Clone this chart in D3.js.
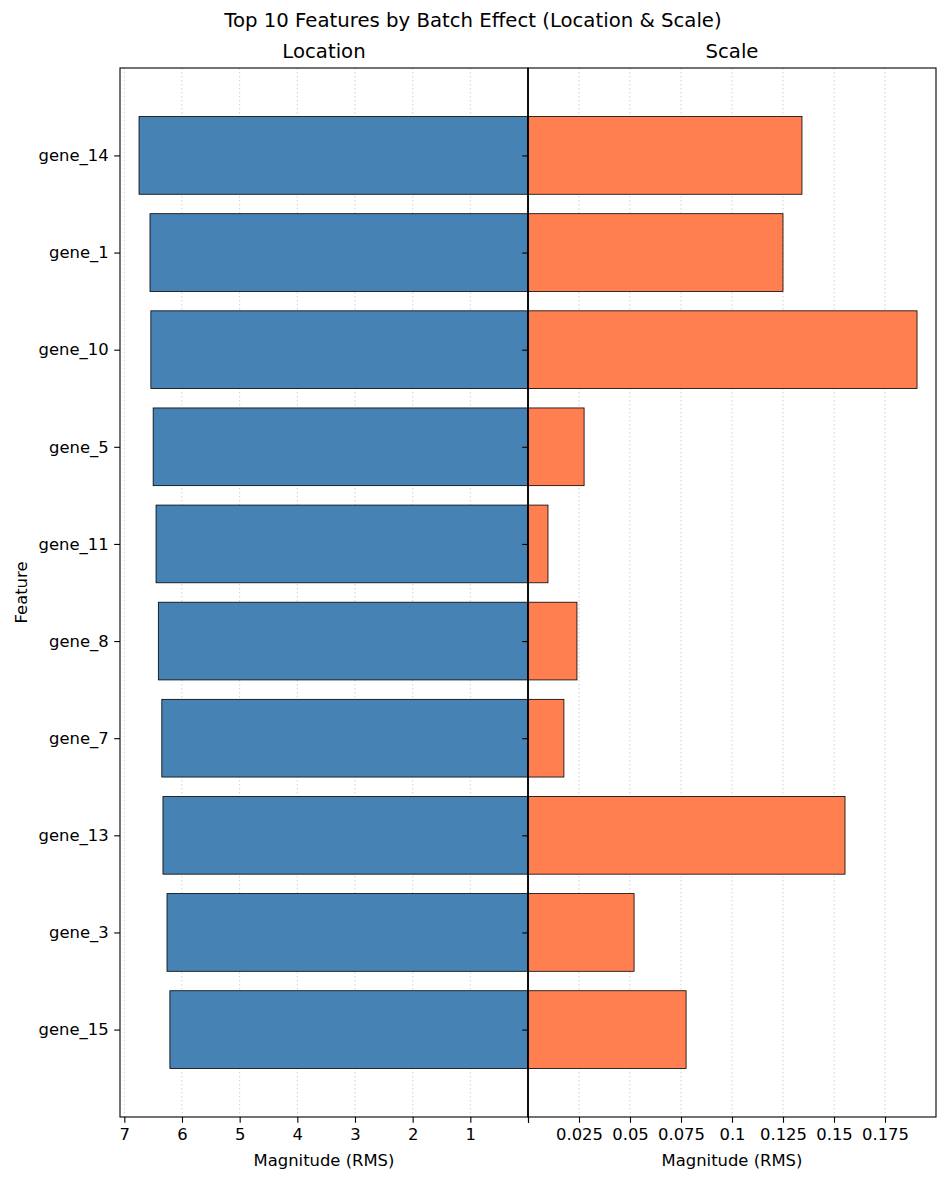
<!DOCTYPE html>
<html>
<head>
<meta charset="utf-8">
<script src="https://cdn.jsdelivr.net/npm/d3@7"></script>
<style>
    body { margin: 0; background: #fff; }
    svg text { font-family: "DejaVu Sans", sans-serif; fill: #000; }
    .tick text { font-size: 16.4px; }
    .grid line { stroke: #ccc; stroke-width: 0.9; stroke-dasharray: 1.5, 2.5; }
</style>
</head>
<body>
<script>
(function(){

// DATA

    const features = ['gene_14', 'gene_1', 'gene_10', 'gene_5', 'gene_11',
        'gene_8', 'gene_7', 'gene_13', 'gene_3', 'gene_15'];

    const locationValues = [6.745, 6.555, 6.54, 6.50, 6.45, 6.41, 6.35, 6.33, 6.26, 6.21];

    const scaleValues = [0.1343, 0.125, 0.1907, 0.0275, 0.0098, 0.024, 0.0176, 0.1554, 0.052, 0.0775];

    const locationTicks = [0, 1, 2, 3, 4, 5, 6, 7];
    const scaleTicks = [0, 0.025, 0.05, 0.075, 0.1, 0.125, 0.15, 0.175];

// LAYOUT

    const width = 947,
        height = 1182,
        left = 120,
        mid = 528,
        right = 936,
        top = 68,
        bottom = 1117,
        tickLen = 5.8,
        tickPad = 5.6;

    const svg = d3
        .select('body')
        .append('svg')
        .attr('width', width)
        .attr('height', height);

    const xLoc = d3.scaleLinear()
        .domain([0, 7.075])
        .range([mid, left]);

    const xScale = d3.scaleLinear()
        .domain([0, 0.2])
        .range([mid, right]);

    // matplotlib style category axis: integer positions with margin
    const y = d3.scaleLinear()
        .domain([-0.9, 9.9])
        .range([top, bottom]);

    const barH = y(0.8) - y(0);

// GRID

    function drawGrid(ticks, scale){
        svg.append('g')
            .attr('class', 'grid')
            .selectAll('line')
            .data(ticks.filter(function(t){ return t !== 0; }))
            .enter()
            .append('line')
            .attr('x1', function(d){ return scale(d); })
            .attr('x2', function(d){ return scale(d); })
            .attr('y1', top)
            .attr('y2', bottom);
    };
    drawGrid(locationTicks, xLoc);
    drawGrid(scaleTicks, xScale);

// BARS

    svg.append('g')
        .selectAll('rect')
        .data(features)
        .enter()
        .append('rect')
        .attr('x', function(d, i){ return xLoc(locationValues[i]); })
        .attr('y', function(d, i){ return y(i) - barH / 2; })
        .attr('width', function(d, i){ return xLoc(0) - xLoc(locationValues[i]); })
        .attr('height', barH)
        .style('fill', '#4682b4')
        .style('stroke', '#000')
        .style('stroke-width', 0.8);

    svg.append('g')
        .selectAll('rect')
        .data(features)
        .enter()
        .append('rect')
        .attr('x', xScale(0))
        .attr('y', function(d, i){ return y(i) - barH / 2; })
        .attr('width', function(d, i){ return xScale(scaleValues[i]) - xScale(0); })
        .attr('height', barH)
        .style('fill', '#ff7f50')
        .style('stroke', '#000')
        .style('stroke-width', 0.8);

// AXES

    const yAxis = d3.axisLeft(y)
        .tickValues(d3.range(features.length))
        .tickFormat(function(i){ return features[i]; })
        .tickSize(tickLen)
        .tickPadding(tickPad);

    svg.append('g')
        .attr('transform', 'translate(' + left + ',0)')
        .call(yAxis)
        .call(function(g){ g.select('.domain').remove(); });

    // right panel y ticks without labels
    svg.append('g')
        .attr('transform', 'translate(' + mid + ',0)')
        .call(d3.axisLeft(y)
            .tickValues(d3.range(features.length))
            .tickFormat('')
            .tickSize(tickLen))
        .call(function(g){ g.select('.domain').remove(); });

    svg.append('g')
        .attr('transform', 'translate(0,' + bottom + ')')
        .call(d3.axisBottom(xLoc)
            .tickValues(locationTicks)
            .tickFormat(function(d){ return d === 0 ? '' : d; })
            .tickSize(tickLen)
            .tickPadding(tickPad))
        .call(function(g){ g.select('.domain').remove(); });

    svg.append('g')
        .attr('transform', 'translate(0,' + bottom + ')')
        .call(d3.axisBottom(xScale)
            .tickValues(scaleTicks)
            .tickFormat(function(d){ return d === 0 ? '' : String(d); })
            .tickSize(tickLen)
            .tickPadding(tickPad))
        .call(function(g){ g.select('.domain').remove(); });

    svg.selectAll('.tick line')
        .style('stroke', '#000')
        .style('stroke-width', 1.1);

// FRAMES

    [[left, mid], [mid, right]].forEach(function(p){
        svg.append('rect')
            .attr('x', p[0])
            .attr('y', top)
            .attr('width', p[1] - p[0])
            .attr('height', bottom - top)
            .style('fill', 'none')
            .style('stroke', '#000')
            .style('stroke-width', 1.1);
    });

    svg.append('line')
        .attr('x1', mid)
        .attr('x2', mid)
        .attr('y1', top)
        .attr('y2', bottom)
        .style('stroke', '#000')
        .style('stroke-width', 1.4);

// TEXT

    svg.append('text')
        .attr('x', 473)
        .attr('y', 27)
        .attr('text-anchor', 'middle')
        .style('font-size', '19.7px')
        .text('Top 10 Features by Batch Effect (Location & Scale)');

    svg.append('text')
        .attr('x', (left + mid) / 2)
        .attr('y', 58)
        .attr('text-anchor', 'middle')
        .style('font-size', '19.7px')
        .text('Location');

    svg.append('text')
        .attr('x', (mid + right) / 2)
        .attr('y', 58)
        .attr('text-anchor', 'middle')
        .style('font-size', '19.7px')
        .text('Scale');

    svg.append('text')
        .attr('x', (left + mid) / 2)
        .attr('y', 1166)
        .attr('text-anchor', 'middle')
        .style('font-size', '16.4px')
        .text('Magnitude (RMS)');

    svg.append('text')
        .attr('x', (mid + right) / 2)
        .attr('y', 1166)
        .attr('text-anchor', 'middle')
        .style('font-size', '16.4px')
        .text('Magnitude (RMS)');

    svg.append('text')
        .attr('transform', 'translate(27,' + ((top + bottom) / 2) + ') rotate(-90)')
        .attr('text-anchor', 'middle')
        .style('font-size', '16.4px')
        .text('Feature');

})();
</script>
</body>
</html>
